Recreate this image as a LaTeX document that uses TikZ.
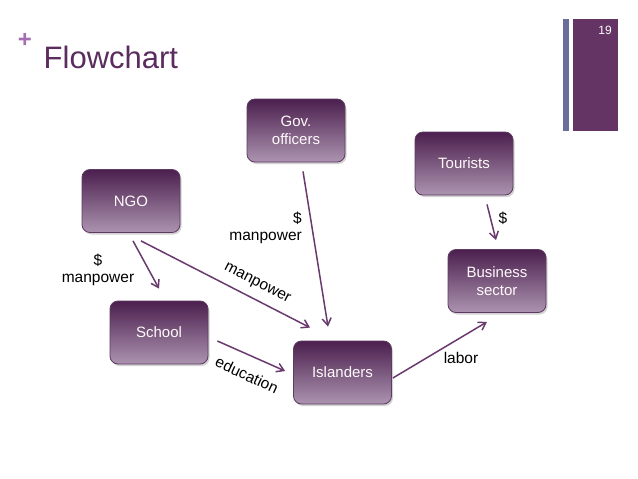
\documentclass[tikz,border=0pt]{standalone}
\usepackage{fontspec}
\setmainfont{Liberation Sans}
\usetikzlibrary{arrows.meta,calc,shadows}
\definecolor{boxtop}{HTML}{4B1F4E}
\definecolor{boxbot}{HTML}{AC94B0}
\definecolor{boxedge}{HTML}{5E3A62}
\definecolor{arrcol}{HTML}{6A3A6E}
\definecolor{titlecol}{HTML}{5A2D5E}
\definecolor{pluscol}{HTML}{A56DB2}
\definecolor{barblue}{HTML}{6A6E9A}
\definecolor{barpurple}{HTML}{643464}
\tikzset{
  box/.style={rounded corners=8pt, draw=boxedge, line width=0.8pt,
    top color=boxtop, bottom color=boxbot, minimum width=98pt, minimum height=63pt,
    text=white!92!pink, align=center, font=\fontsize{15}{18}\selectfont,
    drop shadow={shadow xshift=1.5pt, shadow yshift=-2pt, opacity=0.35, fill=black!50}},
  arr/.style={draw=arrcol, line width=1.5pt, -{Straight Barb[length=7pt,width=9pt,line width=1.5pt]}},
  lbl/.style={font=\fontsize{15.5}{17}\selectfont, text=black, inner sep=0pt, align=center}
}
\begin{document}
\begin{tikzpicture}[x=1pt,y=-1pt]
\useasboundingbox (0,0) rectangle (638,479);
\fill[white] (0,0) rectangle (638,479);
% header
\fill[barblue] (563,19) rectangle (569,131);
\fill[barpurple] (573,19) rectangle (618,131);
\node[text=white, font=\fontsize{12}{13}\selectfont] (pg) at (605,30) {19};
\node[text=pluscol, font=\bfseries\fontsize{24}{24}\selectfont, inner sep=0pt] (plus) at (25,40) {+};
\node[text=titlecol, font=\fontsize{31}{36}\selectfont, anchor=base west, inner sep=0pt] (title) at (43.5,68) {Flowchart};
% nodes
\node[box] (ngo) at (131,201) {NGO};
\node[box] (school) at (159,332.5) {School};
\node[box] (isl) at (342.5,372.5) {Islanders};
\node[box] (tour) at (464,163.5) {Tourists};
\node[box] (bus) at (497,281) {Business\\sector};
\node[box] (gov) at (296,130.5) {Gov.\\officers};
% arrows
\draw[arr] ($(ngo.south)+(2,8)$) -- ($(school.north)+(0,-12)$);
\draw[arr] ($(ngo.south)+(10,8)$) -- ($(isl.north)+(-32.5,-13)$);
\draw[arr] ($(gov.south)+(7,9)$) -- ($(isl.north)+(-14.5,-14)$);
\draw[arr] ($(school.east)+(9,8.5)$) -- ($(isl.west)+(-8,-1.5)$);
\draw[arr] ($(isl.east)+(1,5.5)$) -- ($(bus.south)+(-10,9)$);
\draw[arr] ($(tour.south)+(23,9)$) -- ($(bus.north)+(-1,-9)$);
% labels
\node[lbl] (l1) at (98,270) {\$\\manpower};
\node[lbl, rotate=-27] (l2) at (257,284) {manpower};
\node[lbl, align=right, anchor=east] (l3) at (302,228) {\$\hspace{5pt}\\manpower};
\node[lbl, rotate=-25] (l4) at (247,375) {education};
\node[lbl] (l5) at (461,358) {labor};
\node[lbl] (l6) at (503,218) {\$};
\end{tikzpicture}
\end{document}
